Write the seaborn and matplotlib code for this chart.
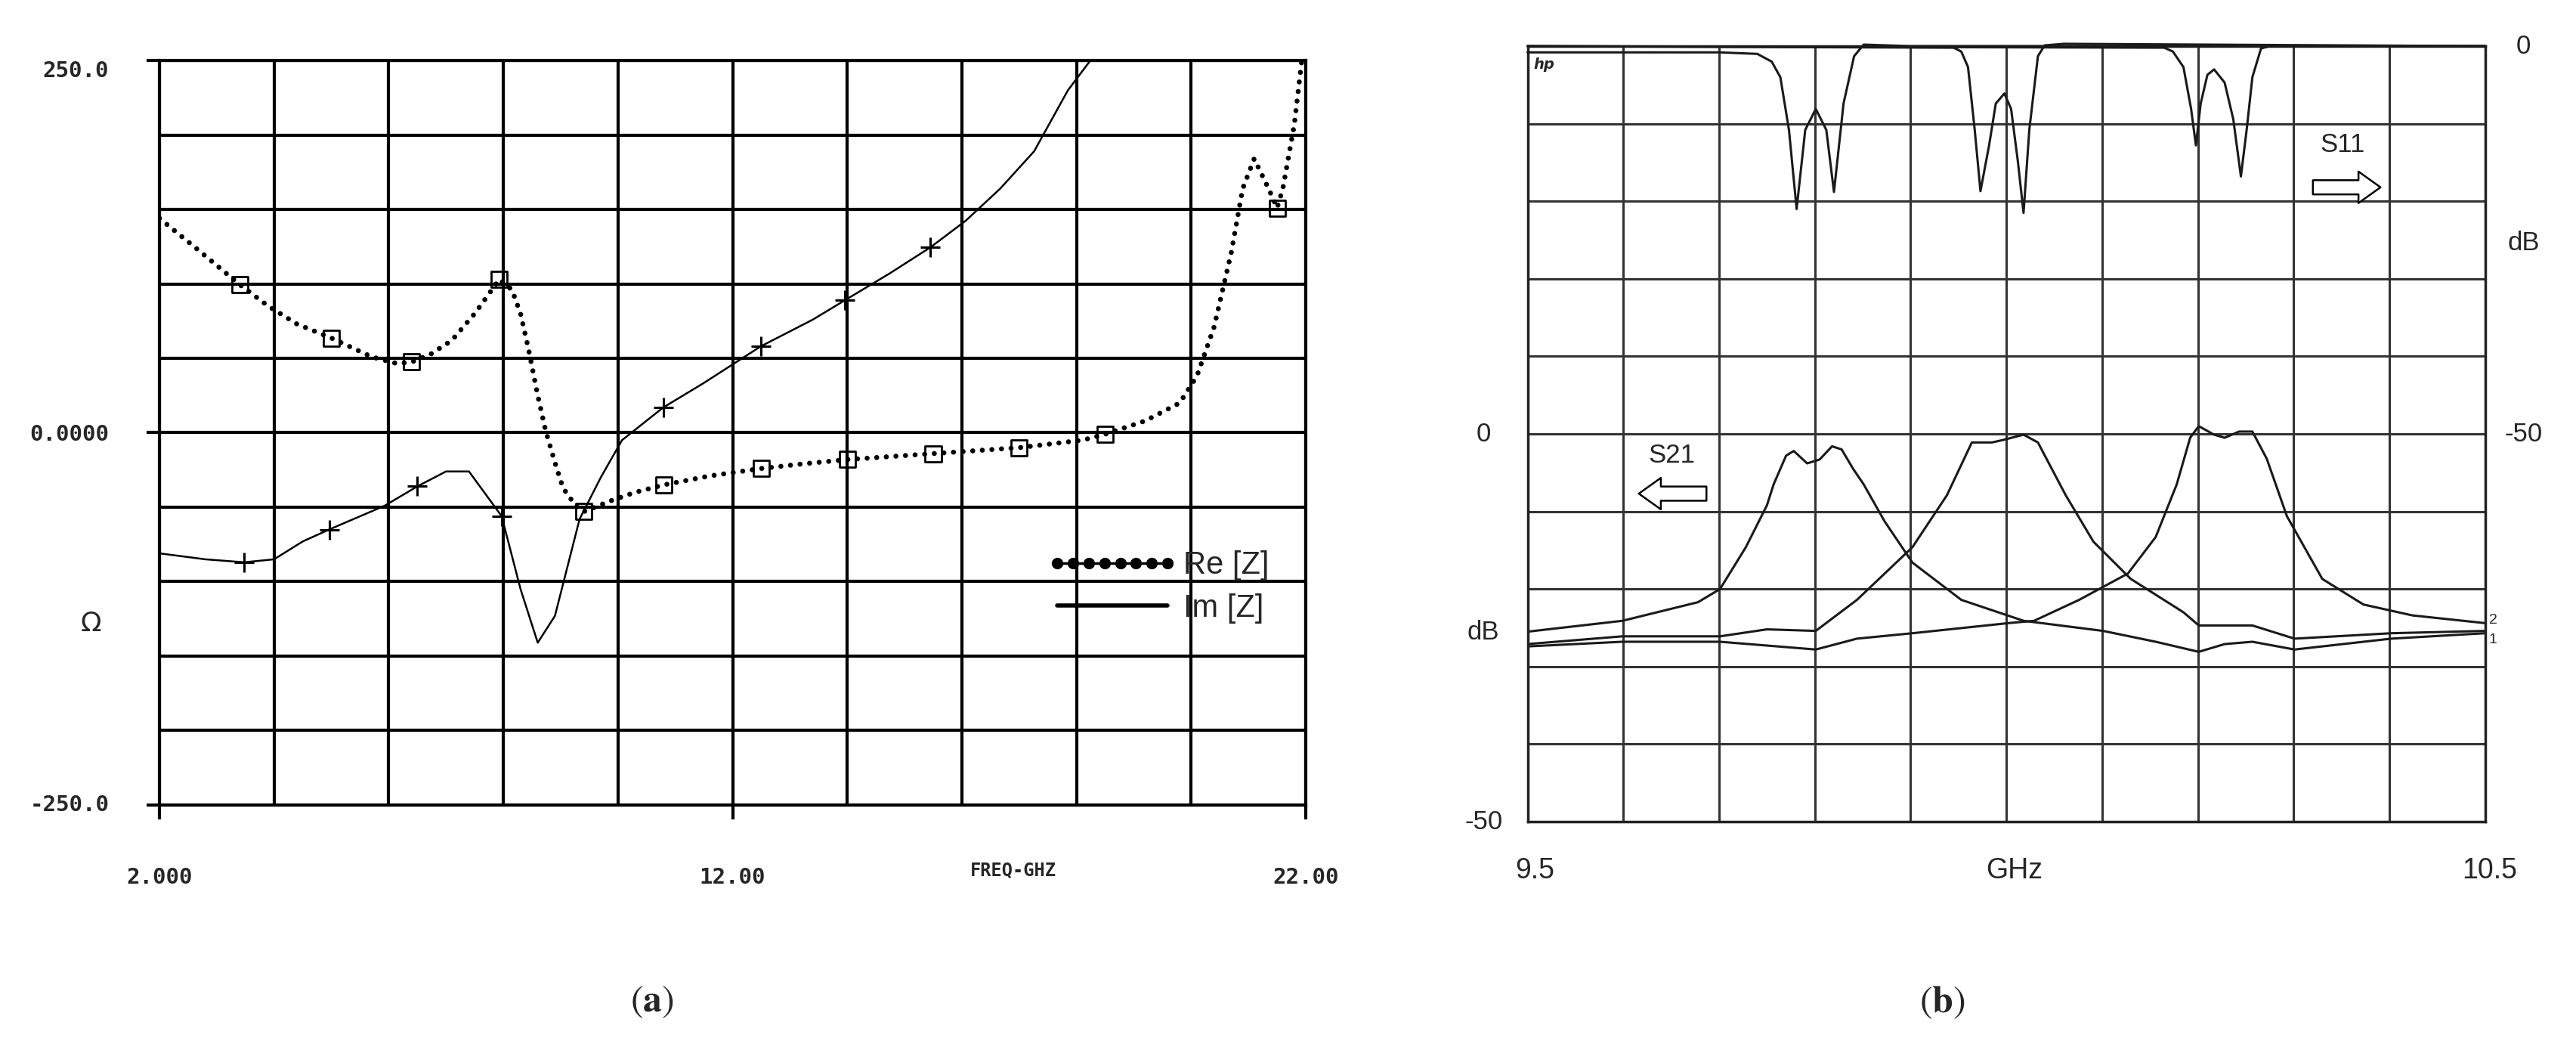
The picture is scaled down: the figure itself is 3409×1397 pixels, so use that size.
import numpy as np
import pandas as pd
import matplotlib
matplotlib.use("Agg")
import matplotlib.pyplot as plt
from matplotlib.lines import Line2D
from matplotlib import transforms
import seaborn as sns

# ---------------- data: panel (a) ----------------
re_freq = [2.0, 2.7, 3.4, 3.9, 4.4, 5.0, 5.7, 6.15, 6.4, 6.74, 7.1, 7.5, 7.93, 8.15, 8.3,
           8.44, 8.6, 8.74, 8.9, 9.04, 9.26, 9.4, 9.6, 9.85, 10.3, 10.8, 11.6, 12.5, 13.2,
           14.0, 15.5, 17.0, 18.1, 18.5, 19.2, 19.8, 20.1, 20.4, 20.7, 20.9, 21.1, 21.35,
           21.5, 21.6, 21.8, 21.93]
re_val = [144, 122, 99.5, 85, 73, 63.6, 51, 46.4, 47.5, 53, 62, 80, 103, 96, 80,
          56, 25, 1, -20, -37, -49, -53, -50, -46, -40, -35, -29, -24, -21,
          -18, -14, -10, -5, -1, 8, 20, 38, 71, 121, 164, 184, 164,
          151, 164, 207, 250]
re_mark_freq = [3.4, 5.0, 6.4, 7.93, 9.4, 10.8, 12.5, 14.0, 15.5, 17.0, 18.5, 21.5]
re_mark_val = [99.5, 63.6, 47.5, 103, -53, -35, -24, -18, -14, -10, -1, 151]

im_freq = [2.0, 2.8, 3.48, 4.0, 4.5, 4.96, 5.93, 6.5, 7.0, 7.4, 7.97, 8.3, 8.6, 8.9,
           9.33, 9.7, 10.07, 10.79, 11.48, 12.49, 13.4, 13.96, 14.74, 15.45, 16.07,
           16.67, 17.26, 17.85, 18.3]
im_val = [-81, -85, -87, -85, -73, -65, -49, -36, -26, -26, -56, -105, -141, -123,
          -58, -30, -5, 17, 33, 58, 76, 89, 107, 124.5, 142.5, 164, 189, 230, 253]
im_mark_freq = [3.48, 4.96, 6.5, 7.97, 10.79, 12.49, 13.96, 15.45]
im_mark_val = [-87, -65, -36, -56, 17, 58, 89, 124.5]

a_xticks = [2, 12, 22]
a_xticklabels = ["2.000", "12.00", "22.00"]
a_yticks = [-250, 0, 250]
a_yticklabels = ["-250.0", "0.0000", "250.0"]
a_legend = ["Re [Z]", "Im [Z]"]

# ---------------- data: panel (b) ----------------
s21_1_freq = [9.500, 9.599, 9.678, 9.701, 9.728, 9.750, 9.757, 9.770, 9.778, 9.792, 9.805,
              9.818, 9.828, 9.840, 9.851, 9.873, 9.902, 9.953, 10.018, 10.101, 10.156,
              10.201, 10.228, 10.257, 10.301, 10.402, 10.500]
s21_1_db = [-25.5, -24.1, -21.7, -20.0, -14.6, -9.2, -6.5, -2.8, -2.2, -3.8, -3.3,
            -1.6, -2.0, -4.5, -6.5, -11.3, -16.6, -21.4, -24.1, -25.4, -26.8,
            -28.1, -27.1, -26.8, -27.8, -26.4, -25.7]
s21_2_freq = [9.500, 9.599, 9.701, 9.750, 9.801, 9.844, 9.902, 9.938, 9.964, 9.985,
              9.996, 10.018, 10.033, 10.062, 10.091, 10.130, 10.185, 10.201, 10.257,
              10.301, 10.402, 10.500]
s21_2_db = [-27.1, -26.1, -26.1, -25.2, -25.4, -21.4, -14.6, -7.9, -1.1, -1.1,
            -0.8, -0.1, -1.1, -7.9, -13.9, -18.7, -23.0, -24.7, -24.7,
            -26.4, -25.7, -25.4]
s21_3_freq = [9.500, 9.599, 9.701, 9.801, 9.844, 9.902, 10.002, 10.029, 10.076, 10.127,
              10.156, 10.178, 10.192, 10.201, 10.217, 10.228, 10.243, 10.257, 10.272,
              10.293, 10.330, 10.373, 10.424, 10.500]
s21_3_db = [-27.4, -26.8, -26.8, -27.8, -26.4, -25.7, -24.4, -24.1, -21.4, -18.0,
            -13.3, -6.5, -0.5, 1.0, -0.1, -0.5, 0.3, 0.3, -3.2,
            -10.6, -18.7, -22.0, -23.4, -24.4]

s11_1_freq = [9.500, 9.700, 9.740, 9.755, 9.764, 9.773, 9.781, 9.790, 9.801, 9.812,
              9.820, 9.830, 9.841, 9.851, 9.900, 10.500]
s11_1_db = [-0.8, -0.8, -1.0, -2.0, -4.0, -10.8, -21.0, -10.8, -8.1, -10.8,
            -18.8, -7.4, -1.3, 0.2, 0.0, 0.0]
s11_2_freq = [9.500, 9.945, 9.953, 9.960, 9.967, 9.973, 9.982, 9.989, 9.998, 10.005,
              10.012, 10.018, 10.024, 10.033, 10.040, 10.060, 10.500]
s11_2_db = [0.0, -0.2, -0.7, -2.7, -10.8, -18.7, -12.8, -7.4, -6.1, -8.1,
            -14.8, -21.5, -10.8, -1.3, 0.1, 0.3, 0.0]
s11_3_freq = [9.500, 10.165, 10.174, 10.185, 10.193, 10.198, 10.203, 10.210, 10.217,
              10.228, 10.237, 10.245, 10.251, 10.257, 10.266, 10.275, 10.500]
s11_3_db = [0.0, -0.2, -0.7, -2.7, -8.1, -12.8, -7.4, -3.7, -3.0,
            -4.7, -9.4, -16.8, -10.8, -4.0, -0.3, 0.0, 0.0]

b_xlabels = ["9.5", "GHz", "10.5"]
b_left_labels = ["0", "dB", "-50"]
b_right_labels = ["0", "dB", "-50"]

# ---------------- style ----------------
sns.set_theme(style="white")
plt.rcParams["font.family"] = ["Liberation Sans", "DejaVu Sans"]
plt.rcParams["mathtext.fontset"] = "stix"

fig = plt.figure(figsize=(34.09, 13.97), dpi=100)
fig.patch.set_facecolor("white")

# ================= panel (a) =================
axL = fig.add_axes([0.0619, 0.2377, 0.445, 0.705])
axL.set_xlim(2, 22)
axL.set_ylim(-250, 250)
axL.set_xticks(np.arange(2, 23, 2), minor=True)
axL.set_yticks(np.arange(-250, 251, 50), minor=True)
axL.grid(which="both", color="black", lw=3)
for sp in axL.spines.values():
    sp.set_color("black")
    sp.set_linewidth(3)
axL.set_xticks(a_xticks)
axL.set_xticklabels(a_xticklabels, family="DejaVu Sans Mono", fontweight="bold", fontsize=21)
axL.set_yticks(a_yticks)
axL.set_yticklabels(a_yticklabels, family="DejaVu Sans Mono", fontweight="bold", fontsize=21)
axL.tick_params(axis="x", which="major", length=14, width=3, color="black", pad=45, direction="out", bottom=True)
axL.tick_params(axis="y", which="major", length=12, width=3, color="black", pad=36, direction="out", left=True)
axL.tick_params(which="minor", length=0)
ylabs = axL.get_yticklabels()
ylabs[2].set_va("top")
ylabs[0].set_va("center")

re_df = pd.DataFrame({"f": re_freq, "v": re_val})
im_df = pd.DataFrame({"f": im_freq, "v": im_val})
sns.lineplot(data=im_df, x="f", y="v", ax=axL, sort=False, estimator=None,
             color="black", lw=1.8)
sns.lineplot(data=re_df, x="f", y="v", ax=axL, sort=False, estimator=None,
             color="black", lw=4.8, linestyle=(0, (0.01, 1.9)))
axL.lines[-1].set_dash_capstyle("round")
sns.scatterplot(x=re_mark_freq, y=re_mark_val, ax=axL, marker="s", s=230,
                facecolors="none", edgecolors="black", linewidth=2, zorder=5)
sns.scatterplot(x=im_mark_freq, y=im_mark_val, ax=axL, marker="+", s=350,
                color="black", linewidth=2.2, zorder=5)
axL.set_xlabel("")
axL.set_ylabel("")

h_re = Line2D([], [], color="black", lw=2.5, marker="o", markersize=10)
h_im = Line2D([], [], color="black", lw=4)
leg = axL.legend([h_re, h_im], a_legend, loc="upper left", bbox_to_anchor=(0.775, 0.342),
                 frameon=False, fontsize=30, numpoints=8, handlelength=4.1,
                 handletextpad=0.2, labelspacing=0.4, borderpad=0, borderaxespad=0)

tr = transforms.blended_transform_factory(axL.transAxes, axL.transData)
axL.text(-0.06, -128, "Ω", transform=tr, ha="center", va="center", fontsize=26,
         family="DejaVu Sans")
tr2 = transforms.blended_transform_factory(axL.transData, axL.transAxes)
axL.text(16.9, -0.088, "FREQ-GHZ", transform=tr2, ha="center", va="center",
         family="DejaVu Sans Mono", fontsize=17, fontweight="bold")

# ================= panel (b) =================
axR = fig.add_axes([0.593, 0.2219, 0.3717, 0.7344])
axR.set_xlim(9.5, 10.5)
axR.set_ylim(-50, 50)
axR.set_xticks(np.arange(9.5, 10.501, 0.1))
axR.set_yticks(np.arange(-50, 50.1, 10))
axR.grid(True, color="#333333", lw=2.2)
axR.tick_params(length=0, labelbottom=False, labelleft=False)
for sp in axR.spines.values():
    sp.set_color("#222222")
    sp.set_linewidth(2.5)

for fr, db in [(s21_1_freq, s21_1_db), (s21_2_freq, s21_2_db), (s21_3_freq, s21_3_db)]:
    sns.lineplot(x=fr, y=db, ax=axR, sort=False, estimator=None, color="#1a1a1a", lw=2.2)

axR2 = axR.twinx()
axR2.set_ylim(-100, 0)
axR2.set_xlim(9.5, 10.5)
axR2.set_yticks([])
axR2.grid(False)
for sp in axR2.spines.values():
    sp.set_visible(False)
for fr, db in [(s11_1_freq, s11_1_db), (s11_2_freq, s11_2_db), (s11_3_freq, s11_3_db)]:
    sns.lineplot(x=fr, y=db, ax=axR2, sort=False, estimator=None, color="#1a1a1a",
                 lw=2.2, clip_on=False)
axR2.set_ylabel("")

trb = transforms.blended_transform_factory(axR.transAxes, axR.transData)
for lab, yv in zip(b_left_labels, [0, -25.6, -50]):
    axR.text(-0.046, yv, lab, transform=trb, ha="center", va="center", fontsize=25)
for lab, yv in zip(b_right_labels, [50, 24.6, 0]):
    axR.text(1.040, yv, lab, transform=trb, ha="center", va="center", fontsize=25)
trx = transforms.blended_transform_factory(axR.transData, axR.transAxes)
for lab, xv in zip(b_xlabels, [9.508, 10.008, 10.505]):
    axR.text(xv, -0.063, lab, transform=trx, ha="center", va="center", fontsize=27)

axR.text(10.351, 37.3, "S11", ha="center", va="center", fontsize=25)
axR.annotate("", xy=(10.393, 31.8), xytext=(10.318, 31.8),
             arrowprops=dict(arrowstyle="simple,head_length=0.7,head_width=1.0,tail_width=0.45",
                             fc="white", ec="black", lw=1.8, mutation_scale=30))
axR.text(9.651, -2.8, "S21", ha="center", va="center", fontsize=25)
axR.annotate("", xy=(9.614, -7.7), xytext=(9.689, -7.7),
             arrowprops=dict(arrowstyle="simple,head_length=0.7,head_width=1.0,tail_width=0.45",
                             fc="white", ec="black", lw=1.8, mutation_scale=30))
axR.text(0.006, 0.985, "hp", transform=axR.transAxes, ha="left", va="top",
         fontsize=14, style="italic", fontweight="bold", family="DejaVu Sans")
axR.text(1.004, -24.0, "2", transform=trb, ha="left", va="center", fontsize=14)
axR.text(1.004, -26.6, "1", transform=trb, ha="left", va="center", fontsize=14)

# ---------------- captions ----------------
fig.text(0.253, 0.051, r"$(\mathbf{a})$", ha="center", va="center", fontsize=36)
fig.text(0.754, 0.051, r"$(\mathbf{b})$", ha="center", va="center", fontsize=36)

fig.savefig("out.png", dpi=100, facecolor="white")
